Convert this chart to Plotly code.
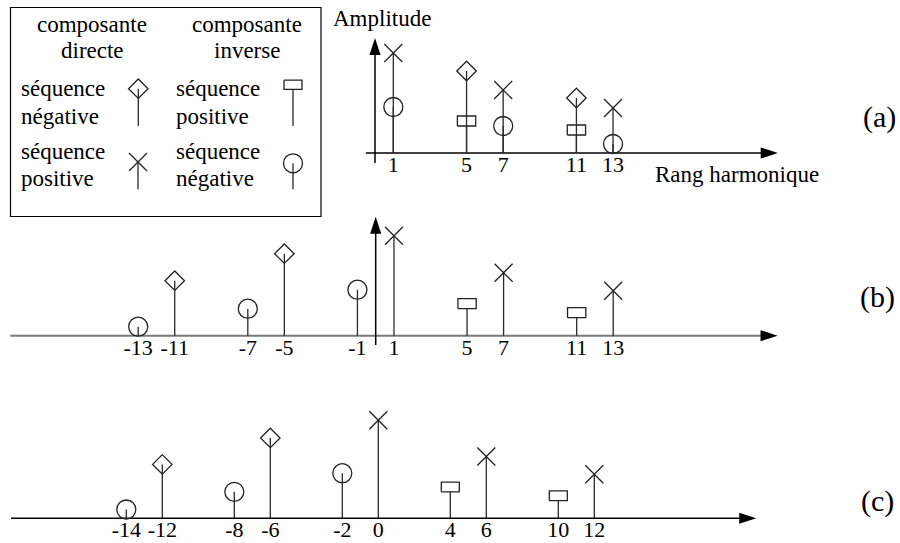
import plotly.graph_objects as go

W, H = 900, 543
FONT = "Liberation Serif, Times New Roman, serif"

# ---------------- data ----------------
# amplitudes (relative)
amp_dir_pos = [1.00, 0.63, 0.45]      # direct component, positive sequence (x)
amp_dir_neg = [0.82, 0.55]            # direct component, negative sequence (diamond)
amp_inv_pos = [0.32, 0.23]            # inverse component, positive sequence (rectangle)
amp_inv_neg = [0.46, 0.27, 0.09]      # inverse component, negative sequence (circle)

# (a) harmonic ranks
a_dir_pos = [1, 7, 13]
a_dir_neg = [5, 11]
a_inv_pos = [5, 11]
a_inv_neg = [1, 7, 13]
a_ticks = [1, 5, 7, 11, 13]

# (b) signed ranks
b_dir_pos = [1, 7, 13]
b_dir_neg = [-5, -11]
b_inv_pos = [5, 11]
b_inv_neg = [-1, -7, -13]
b_ticks = [-13, -11, -7, -5, -1, 1, 5, 7, 11, 13]

# (c) shifted ranks
c_dir_pos = [0, 6, 12]
c_dir_neg = [-6, -12]
c_inv_pos = [4, 10]
c_inv_neg = [-2, -8, -14]
c_ticks = [-14, -12, -8, -6, -2, 0, 4, 6, 10, 12]

# ---------------- layout helpers ----------------
def px_x(px):
    return px / W

def px_y(py):
    return 1 - py / H

# (origin px x, px per unit, baseline px y, px per amplitude unit)
PANELS = {
    "a": dict(x0=375.0, sx=18.31, y0=153.0, sy=100.0),
    "b": dict(x0=375.7, sx=18.27, y0=335.7, sy=100.0),
    "c": dict(x0=378.3, sx=18.0, y0=518.3, sy=98.0),
}

fig = go.Figure()

STEM = dict(color="#2a2a2a", width=1.3)
RECT_HW, RECT_HH = 0.5, 0.05
SZ_X, SZ_D, SZ_O = 18, 15, 19


def stems(xs, ys, top_off=0.0):
    X, Y = [], []
    for x, y in zip(xs, ys):
        X += [x, x, None]
        Y += [0, y - top_off, None]
    return X, Y


def rects(xs, ys):
    X, Y = [], []
    for x, y in zip(xs, ys):
        X += [x - RECT_HW, x + RECT_HW, x + RECT_HW, x - RECT_HW, x - RECT_HW, None]
        Y += [y - RECT_HH, y - RECT_HH, y + RECT_HH, y + RECT_HH, y - RECT_HH, None]
    return X, Y


def add_panel(k, dp, dn, ip, inn, ax_from, ax_to, vert, axis_color, axis_w):
    idx = {"a": "", "b": "2", "c": "3"}[k]
    xa, ya = "x" + idx, "y" + idx
    # axis line + arrow
    fig.add_trace(go.Scatter(x=[ax_from, ax_to - 0.3], y=[0, 0], mode="lines",
                             line=dict(color=axis_color, width=axis_w),
                             xaxis=xa, yaxis=ya, hoverinfo="skip"))
    fig.add_trace(go.Scatter(x=[ax_to], y=[0], mode="markers",
                             marker=dict(symbol="arrow", angle=90, size=18, color="black",
                                         line=dict(width=0)),
                             xaxis=xa, yaxis=ya, cliponaxis=False, hoverinfo="skip"))
    if vert is not None:
        fig.add_trace(go.Scatter(x=[0, 0], y=[vert[0], vert[1] - 0.1], mode="lines",
                                 line=dict(color="black", width=1.5),
                                 xaxis=xa, yaxis=ya, hoverinfo="skip"))
        fig.add_trace(go.Scatter(x=[0], y=[vert[1]], mode="markers",
                                 marker=dict(symbol="arrow", angle=0, size=18, color="black",
                                             line=dict(width=0)),
                                 xaxis=xa, yaxis=ya, cliponaxis=False, hoverinfo="skip"))
    # stems
    for xs, ys, off in [(dp, amp_dir_pos, 0), (dn, amp_dir_neg, 0),
                        (ip, amp_inv_pos, RECT_HH), (inn, amp_inv_neg, 0)]:
        X, Y = stems(xs, ys, off)
        fig.add_trace(go.Scatter(x=X, y=Y, mode="lines", line=STEM,
                                 xaxis=xa, yaxis=ya, hoverinfo="skip"))
    # markers
    mk = dict(color="#222", width=1.3)
    fig.add_trace(go.Scatter(x=dp, y=amp_dir_pos, mode="markers",
                             marker=dict(symbol="x-thin-open", size=SZ_X, line=mk, color="#222"),
                             xaxis=xa, yaxis=ya, cliponaxis=False, hoverinfo="skip"))
    fig.add_trace(go.Scatter(x=dn, y=amp_dir_neg, mode="markers",
                             marker=dict(symbol="diamond-open", size=SZ_D, line=mk, color="#222"),
                             xaxis=xa, yaxis=ya, cliponaxis=False, hoverinfo="skip"))
    fig.add_trace(go.Scatter(x=inn, y=amp_inv_neg, mode="markers",
                             marker=dict(symbol="circle-open", size=SZ_O, line=mk, color="#222"),
                             xaxis=xa, yaxis=ya, cliponaxis=False, hoverinfo="skip"))
    X, Y = rects(ip, amp_inv_pos)
    fig.add_trace(go.Scatter(x=X, y=Y, mode="lines", line=dict(color="#222", width=1.3),
                             xaxis=xa, yaxis=ya, hoverinfo="skip"))


add_panel("a", a_dir_pos, a_dir_neg, a_inv_pos, a_inv_neg, -0.5, 22, (-0.1, 1.15), "black", 1.5)
add_panel("b", b_dir_pos, b_dir_neg, b_inv_pos, b_inv_neg, -20.0, 22, (-0.093, 1.19), "#7a7a7a", 2)
add_panel("c", c_dir_pos, c_dir_neg, c_inv_pos, c_inv_neg, -20.4, 21, None, "black", 1.5)

# ---------- legend glyphs (pixel coordinate axis) ----------
LX = dict(xaxis="x4", yaxis="y4", hoverinfo="skip", cliponaxis=False)
leg_stems_x = [138.3, 138.3, None, 138.0, 138.0, None, 293.0, 293.0, None, 293.0, 293.0]
leg_stems_y = [88.7, 126.0, None, 162.0, 189.3, None, 89.3, 126.0, None, 163.3, 189.3]
fig.add_trace(go.Scatter(x=leg_stems_x, y=leg_stems_y, mode="lines", line=STEM, **LX))
fig.add_trace(go.Scatter(x=[138.3], y=[88.7], mode="markers",
                         marker=dict(symbol="diamond-open", size=SZ_D, color="#222",
                                     line=dict(color="#222", width=1.3)), **LX))
fig.add_trace(go.Scatter(x=[138.0], y=[162.0], mode="markers",
                         marker=dict(symbol="x-thin-open", size=SZ_X, color="#222",
                                     line=dict(color="#222", width=1.3)), **LX))
fig.add_trace(go.Scatter(x=[293.0], y=[163.3], mode="markers",
                         marker=dict(symbol="circle-open", size=SZ_O, color="#222",
                                     line=dict(color="#222", width=1.3)), **LX))
fig.add_trace(go.Scatter(x=[284, 302, 302, 284, 284], y=[80.2, 80.2, 89.3, 89.3, 80.2],
                         mode="lines", line=dict(color="#222", width=1.3), **LX))

# ---------------- axes ----------------
layout = dict(
    width=W, height=H, margin=dict(l=0, r=0, t=0, b=0),
    paper_bgcolor="white", plot_bgcolor="rgba(0,0,0,0)",
    showlegend=False, font=dict(family=FONT, size=23, color="black"),
)
ticks = {"a": a_ticks, "b": b_ticks, "c": c_ticks}
for k, idx in [("a", ""), ("b", "2"), ("c", "3")]:
    p = PANELS[k]
    xr = [-p["x0"] / p["sx"], (W - p["x0"]) / p["sx"]]
    yr = [(p["y0"] - H) / p["sy"], p["y0"] / p["sy"]]
    layout["xaxis" + idx] = dict(
        domain=[0, 1], range=xr, anchor="free", position=px_y(p["y0"]),
        showgrid=False, zeroline=False, showline=False, ticks="",
        tickvals=ticks[k], ticktext=[str(t) for t in ticks[k]],
        tickfont=dict(family=FONT, size=22, color="black"),
        ticklabelstandoff=-4)
    layout["yaxis" + idx] = dict(
        domain=[0, 1], range=yr, anchor="x" + idx if idx else "x",
        visible=False, showgrid=False, zeroline=False)
layout["xaxis4"] = dict(domain=[0, 1], range=[0, W], visible=False, anchor="y4")
layout["yaxis4"] = dict(domain=[0, 1], range=[H, 0], visible=False, anchor="x4")
fig.update_layout(**layout)

# ---------------- decorations ----------------
fig.add_shape(type="rect", xref="paper", yref="paper",
              x0=px_x(10.5), x1=px_x(321), y0=px_y(216.5), y1=px_y(7.5),
              line=dict(color="black", width=1.2), fillcolor="rgba(0,0,0,0)")


def txt(s, x, y, anchor="center", size=23):
    fig.add_annotation(text=s, x=px_x(x), y=px_y(y), xref="paper", yref="paper",
                       xanchor=anchor, yanchor="middle", showarrow=False,
                       font=dict(family=FONT, size=size, color="black"))


txt("composante", 92, 24)
txt("directe", 92, 51)
txt("composante", 247, 24)
txt("inverse", 247, 51)
txt("séquence", 19, 88, "left")
txt("négative", 19, 116, "left")
txt("séquence", 19, 152, "left")
txt("positive", 19, 179, "left")
txt("séquence", 174, 88, "left")
txt("positive", 174, 116, "left")
txt("séquence", 174, 152, "left")
txt("négative", 174, 179, "left")
txt("Amplitude", 331, 18, "left")
txt("Rang harmonique", 737, 174)
txt("(a)", 879, 117, size=30)
txt("(b)", 877, 297, size=30)
txt("(c)", 877, 501, size=30)

fig.write_html("out.html", config={"displayModeBar": False},
               post_script="document.body.style.margin='0';document.body.style.overflow='hidden';")
